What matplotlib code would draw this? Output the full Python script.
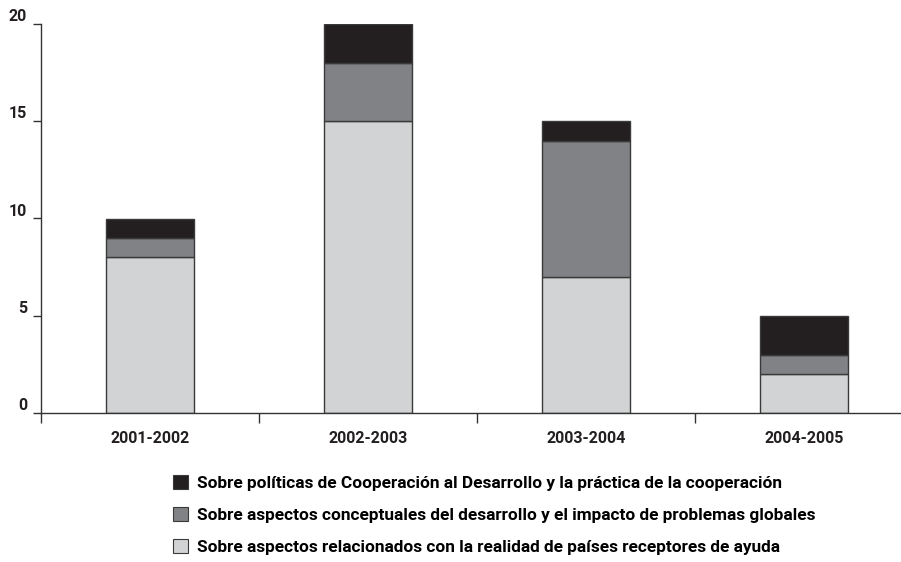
import matplotlib.pyplot as plt
from matplotlib.patches import Patch

periods = ["2001-2002", "2002-2003", "2003-2004", "2004-2005"]
realidad = [8, 15, 7, 2]      # light grey, bottom
conceptuales = [1, 3, 7, 1]   # mid grey
politicas = [1, 2, 1, 2]      # dark, top

labels = [
    "Sobre políticas de Cooperación al Desarrollo y la práctica de la cooperación",
    "Sobre aspectos conceptuales del desarrollo y el impacto de problemas globales",
    "Sobre aspectos relacionados con la realidad de países receptores de ayuda",
]
colors = ["#231f20", "#808285", "#d1d3d4"]

plt.rcParams["font.family"] = ["Roboto", "DejaVu Sans"]
plt.rcParams["font.weight"] = "semibold"

W, H = 901, 562
fig = plt.figure(figsize=(W / 100, H / 100), dpi=100)
ax = fig.add_axes([41 / W, 1 - 413 / H, 1 - 41 / W, (413 - 24) / H])

x = list(range(len(periods)))
bw = 0.4
edge = dict(edgecolor="#3a3a3a", linewidth=1.0)
ax.bar(x, realidad, bw, color=colors[2], **edge)
bottom2 = realidad
ax.bar(x, conceptuales, bw, bottom=bottom2, color=colors[1], **edge)
bottom3 = [a + b for a, b in zip(realidad, conceptuales)]
ax.bar(x, politicas, bw, bottom=bottom3, color=colors[0], **edge)

ax.set_xlim(-0.5, -0.5 + (W - 41) / 218)
ax.set_ylim(0, 20)
ax.set_yticks([0, 5, 10, 15, 20])

# ticks at category boundaries, labels at centers
ax.set_xticks([-0.5, 0.5, 1.5, 2.5])
ax.set_xticklabels([])
ax.set_xticks(x, minor=True)
ax.set_xticklabels(periods, minor=True)
ax.tick_params(axis="x", which="major", direction="out", length=7, width=1, color="#333333")
ax.tick_params(axis="x", which="minor", length=0, pad=13, labelsize=11.5, labelcolor="#231f20")
ax.tick_params(axis="y", direction="out", length=6, width=1, color="#333333",
               labelsize=11.5, labelcolor="#231f20", pad=4)
for lab in ax.get_yticklabels():
    lab.set_verticalalignment("bottom")

for s in ["top", "right"]:
    ax.spines[s].set_visible(False)
for s in ["left", "bottom"]:
    ax.spines[s].set_color("#333333")
    ax.spines[s].set_linewidth(1.0)

handles = [Patch(facecolor=c, edgecolor="#3a3a3a", linewidth=0.8) for c in colors]
fig.legend(handles, labels, loc="upper left", bbox_to_anchor=(173 / W, 1 - 475 / H),
           frameon=False, fontsize=12.4, handlelength=0.85, handleheight=0.85,
           handletextpad=0.55, labelspacing=0.95, borderaxespad=0, borderpad=0)

fig.savefig("out.png", dpi=100)
